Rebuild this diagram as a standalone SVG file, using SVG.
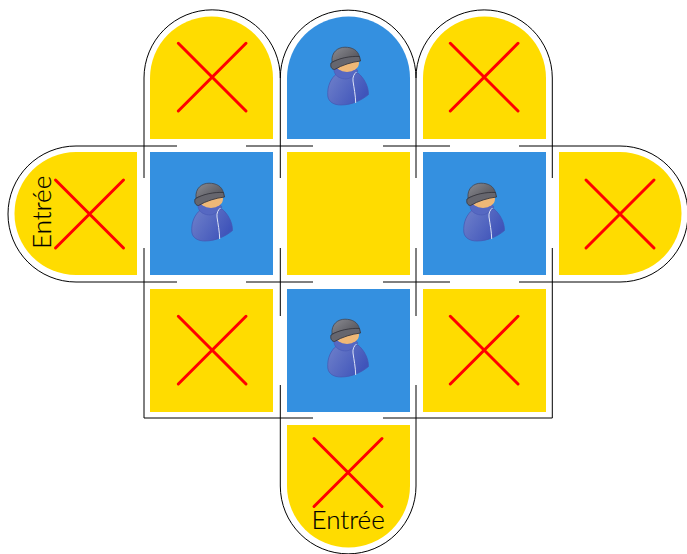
<svg xmlns="http://www.w3.org/2000/svg" width="687" height="554" viewBox="0 0 687 554">
<style>
.y{fill:#ffdc00}.b{fill:#3490e0}
.x{stroke:#ff0000;stroke-width:3;stroke-linecap:round;fill:none}
.w{stroke:#000;stroke-width:1;fill:none;stroke-linecap:butt}
.t{font-family:"Lato","Open Sans",sans-serif;font-weight:300;font-size:26px;fill:#000;stroke:#000;stroke-width:0.15}
</style>
<defs>
<linearGradient id="body" x1="0" y1="0" x2="1" y2="0.5"><stop offset="0" stop-color="#7081ca"/><stop offset="1" stop-color="#3f54ba"/></linearGradient>
<linearGradient id="hat" x1="0" y1="0" x2="1" y2="0.7"><stop offset="0" stop-color="#8c8c92"/><stop offset="1" stop-color="#55555c"/></linearGradient>
<symbol id="person" overflow="visible">
<path d="M327.800 96C327 86 331 78 337 73.500L358 73C364 78 368.500 86 368.500 94.500C362 100 352 105 341 105C334 105 328.500 102 327.800 96Z" fill="url(#body)" stroke="#4556b0" stroke-width="0.7"/>
<path d="M334 68C333 74 338 78.500 345 79C350 79 354 76 358 71L352 64Z" fill="#5668c2" stroke="#4556b0" stroke-width="0.5"/>
<ellipse cx="347" cy="63" rx="12" ry="9" fill="#efb877"/>
<path d="M356.500 72C354 74 352.500 77 353 81C354 88 355.500 95 355.700 103" fill="none" stroke="#dde3f6" stroke-width="1"/>
<path d="M332 62C331 52 338 47.200 345 47.200C352 47.200 358 50 359.500 57C352 56.500 341 58 332 62Z" fill="url(#hat)" stroke="#44444c" stroke-width="0.8"/>
<path d="M331 63C339 58 350 56 359.500 56.500L360.500 61C352 62 342 65 334.500 69.500C332 69.500 330 67 331 63Z" fill="#66666e" stroke="#38383f" stroke-width="0.9"/>
</symbol>
</defs>
<rect width="687" height="554" fill="#fff"/>
<g id="connectors">
<path class="w" d="M144 78A68.150 68.150 0 0 1 280.300 78A67.850 67.850 0 0 1 416 78A68.150 68.150 0 0 1 552.300 78"/>
<path class="w" d="M144 78V178M280.300 78V178M416 78V178M552.300 78V178"/>
<path class="w" d="M144 248V418H313M383 418H552.300V248"/>
<path class="w" d="M280.300 248V316M416 248V316M280.300 385V486A67.850 67.850 0 0 0 416 486V385"/>
<path class="w" d="M177 146H76A68 68 0 0 0 76 282H177M246 146H313M383 146H450M519 146H620A68 68 0 0 1 620 282H519M246 282H313M383 282H450"/>
</g>
<g id="room-top-left"><path class="y" d="M150 139V78A61.500 61.500 0 0 1 273 78V139Z"/><path class="x" d="M178.300 43.300L246 111M246 43.300L178.300 111"/></g>
<g id="room-top-middle"><path class="b" d="M287 139V78A61.500 61.500 0 0 1 410 78V139Z"/><use href="#person"/></g>
<g id="room-top-right"><path class="y" d="M423 139V78A61.500 61.500 0 0 1 546 78V139Z"/><path class="x" d="M450.300 43.300L518 111M518 43.300L450.300 111"/></g>
<g id="room-left"><path class="y" d="M137 152V275H76A61.500 61.500 0 0 1 76 152Z"/><path class="x" d="M55.500 180L123.500 248M123.500 180L55.500 248"/><text class="t" transform="translate(51 249) rotate(-90)">Entrée</text></g>
<g id="room-a"><rect class="b" x="150" y="152" width="123" height="123"/><use href="#person" x="-136" y="136"/></g>
<g id="room-center"><rect class="y" x="287" y="152" width="123" height="123"/></g>
<g id="room-c"><rect class="b" x="423" y="152" width="123" height="123"/><use href="#person" x="136" y="136"/></g>
<g id="room-right"><path class="y" d="M559 152V275H620A61.500 61.500 0 0 0 620 152Z"/><path class="x" d="M586 180L654 248M654 180L586 248"/></g>
<g id="room-bottom-left"><rect class="y" x="150" y="289" width="123" height="123"/><path class="x" d="M178.300 316.300L246 384M246 316.300L178.300 384"/></g>
<g id="room-bottom-middle"><rect class="b" x="287" y="289" width="123" height="123"/><use href="#person" y="272"/></g>
<g id="room-bottom-right"><rect class="y" x="423" y="289" width="123" height="123"/><path class="x" d="M450.300 316.300L518 384M518 316.300L450.300 384"/></g>
<g id="room-exit"><path class="y" d="M287 425H410V486A61.500 61.500 0 0 1 287 486Z"/><path class="x" d="M314 438.500L382 506.500M382 438.500L314 506.500"/><text class="t" x="311.500" y="529">Entrée</text></g>
</svg>
